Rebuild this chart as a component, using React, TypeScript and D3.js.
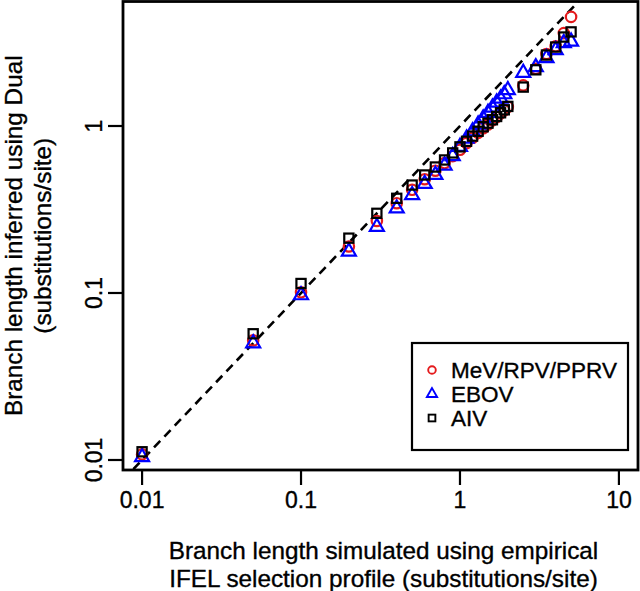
import React from "react";
import * as d3 from "d3";

const trueLengths = [0.01, 0.05, 0.1, 0.2, 0.3, 0.4, 0.5, 0.6, 0.7, 0.8, 0.9, 1.0, 1.1, 1.2, 1.3, 1.4, 1.5, 1.6, 1.7, 1.8, 1.9, 2.0, 2.5, 3.0, 3.5, 4.0, 4.5, 5.0];
const mevValues = [0.0108, 0.052, 0.101, 0.19, 0.27, 0.345, 0.415, 0.48, 0.54, 0.6, 0.66, 0.72, 0.79, 0.85, 0.91, 0.97, 1.02, 1.08, 1.13, 1.19, 1.24, 1.3, 1.75, 2.2, 2.7, 3.0, 3.6, 4.5];
const ebovValues = [0.0104, 0.05, 0.097, 0.177, 0.249, 0.321, 0.386, 0.45, 0.51, 0.58, 0.66, 0.75, 0.84, 0.93, 1.02, 1.11, 1.2, 1.29, 1.38, 1.46, 1.55, 1.64, 2.08, 2.25, 2.55, 2.85, 3.14, 3.2];
const aivValues = [0.0112, 0.057, 0.114, 0.213, 0.3, 0.369, 0.443, 0.509, 0.568, 0.626, 0.69, 0.75, 0.81, 0.87, 0.93, 0.99, 1.04, 1.09, 1.14, 1.2, 1.25, 1.31, 1.71, 2.17, 2.66, 2.97, 3.41, 3.66];

const xTicks = [0.01, 0.1, 1, 10];
const xTickLabels = ["0.01", "0.1", "1", "10"];
const yTicks = [0.01, 0.1, 1];
const yTickLabels = ["0.01", "0.1", "1"];
const legendLabels = ["MeV/RPV/PPRV", "EBOV", "AIV"];
const xTitle = ["Branch length simulated using empirical", "IFEL selection profile (substitutions/site)"];
const yTitle = ["Branch length inferred using Dual", "(substitutions/site)"];

const W = 640, H = 591;
const L = 123, R = 638, T = 1.5, B = 470;
const FONT = "'Liberation Sans', Arial, Helvetica, sans-serif";
const FS_TICK = 23;
const FS_TITLE = 24.3;
const FS_LEG = 22.5;
const TXT = { fill: "#000", stroke: "#000", strokeWidth: 0.35 };

const x = d3.scaleLog().domain([Math.pow(10, -2.12), Math.pow(10, 1.12)]).range([L, R]);
const y = d3.scaleLog().domain([Math.pow(10, -2.0599), Math.pow(10, 0.7455)]).range([B, T]);

function Marker({ kind, cx, cy, r, color, sw }: { kind: string; cx: number; cy: number; r: number; color: string; sw: number }) {
  if (kind === "circle") return <circle cx={cx} cy={cy} r={r} fill="none" stroke={color} strokeWidth={sw} />;
  if (kind === "triangle") {
    const p = `M${cx},${cy - 1.555 * r}L${cx - 1.347 * r},${cy + 0.777 * r}L${cx + 1.347 * r},${cy + 0.777 * r}Z`;
    return <path d={p} fill="none" stroke={color} strokeWidth={sw} strokeLinejoin="miter" />;
  }
  const h = 0.886 * r;
  return <rect x={cx - h} y={cy - h} width={2 * h} height={2 * h} fill="none" stroke={color} strokeWidth={sw} />;
}

const series = [
  { kind: "circle", color: "#e41a1c", values: mevValues },
  { kind: "triangle", color: "#0000ff", values: ebovValues },
  { kind: "square", color: "#000000", values: aivValues },
];

export default function App() {
  const lineLo = x.domain()[0];
  const lineHi = x.domain()[1];
  const clipId = "plotclip";
  return (
    <svg width={W} height={H} style={{ position: "absolute", left: 0, top: 0, background: "#fff" }} fontFamily={FONT}>
      <rect x={0} y={0} width={W} height={H} fill="#fff" />
      <defs>
        <clipPath id={clipId}>
          <rect x={L} y={T} width={R - L} height={B - T} />
        </clipPath>
      </defs>
      <line
        x1={x(lineLo)} y1={y(lineLo)} x2={x(lineHi)} y2={y(lineHi)}
        stroke="#000" strokeWidth={2.6} strokeDasharray="9,6" clipPath={`url(#${clipId})`}
      />
      {series.map((s, si) => (
        <g key={si}>
          {trueLengths.map((v, i) => (
            <Marker key={i} kind={s.kind} cx={x(v)} cy={y(s.values[i])} r={5.2} color={s.color} sw={2.2} />
          ))}
        </g>
      ))}
      <rect x={L} y={T} width={R - L} height={B - T} fill="none" stroke="#000" strokeWidth={2.8} />
      {xTicks.map((t, i) => (
        <g key={i}>
          <line x1={x(t)} x2={x(t)} y1={B} y2={B + 15} stroke="#000" strokeWidth={2.2} />
          <text x={x(t)} y={508} textAnchor="middle" fontSize={FS_TICK} {...TXT}>{xTickLabels[i]}</text>
        </g>
      ))}
      {yTicks.map((t, i) => (
        <g key={i}>
          <line x1={L - 15} x2={L} y1={y(t)} y2={y(t)} stroke="#000" strokeWidth={2.2} />
          <text transform={`translate(102,${y(t)}) rotate(-90)`} textAnchor="middle" fontSize={FS_TICK} {...TXT}>{yTickLabels[i]}</text>
        </g>
      ))}
      <text x={(L + R) / 2 + 3} y={559} textAnchor="middle" fontSize={FS_TITLE} {...TXT}>{xTitle[0]}</text>
      <text x={(L + R) / 2 + 3} y={587} textAnchor="middle" fontSize={FS_TITLE} {...TXT}>{xTitle[1]}</text>
      <text transform={`translate(22,${(T + B) / 2}) rotate(-90)`} textAnchor="middle" fontSize={FS_TITLE} {...TXT}>{yTitle[0]}</text>
      <text transform={`translate(51,${(T + B) / 2}) rotate(-90)`} textAnchor="middle" fontSize={FS_TITLE} {...TXT}>{yTitle[1]}</text>
      <rect x={412} y={343} width={216} height={107} fill="#fff" stroke="#000" strokeWidth={2.2} />
      {series.map((s, i) => (
        <g key={i}>
          <Marker kind={s.kind} cx={432} cy={370 + i * 24} r={3.8} color={s.color} sw={1.9} />
          <text x={451} y={378 + i * 24} fontSize={FS_LEG} {...TXT}>{legendLabels[i]}</text>
        </g>
      ))}
    </svg>
  );
}
